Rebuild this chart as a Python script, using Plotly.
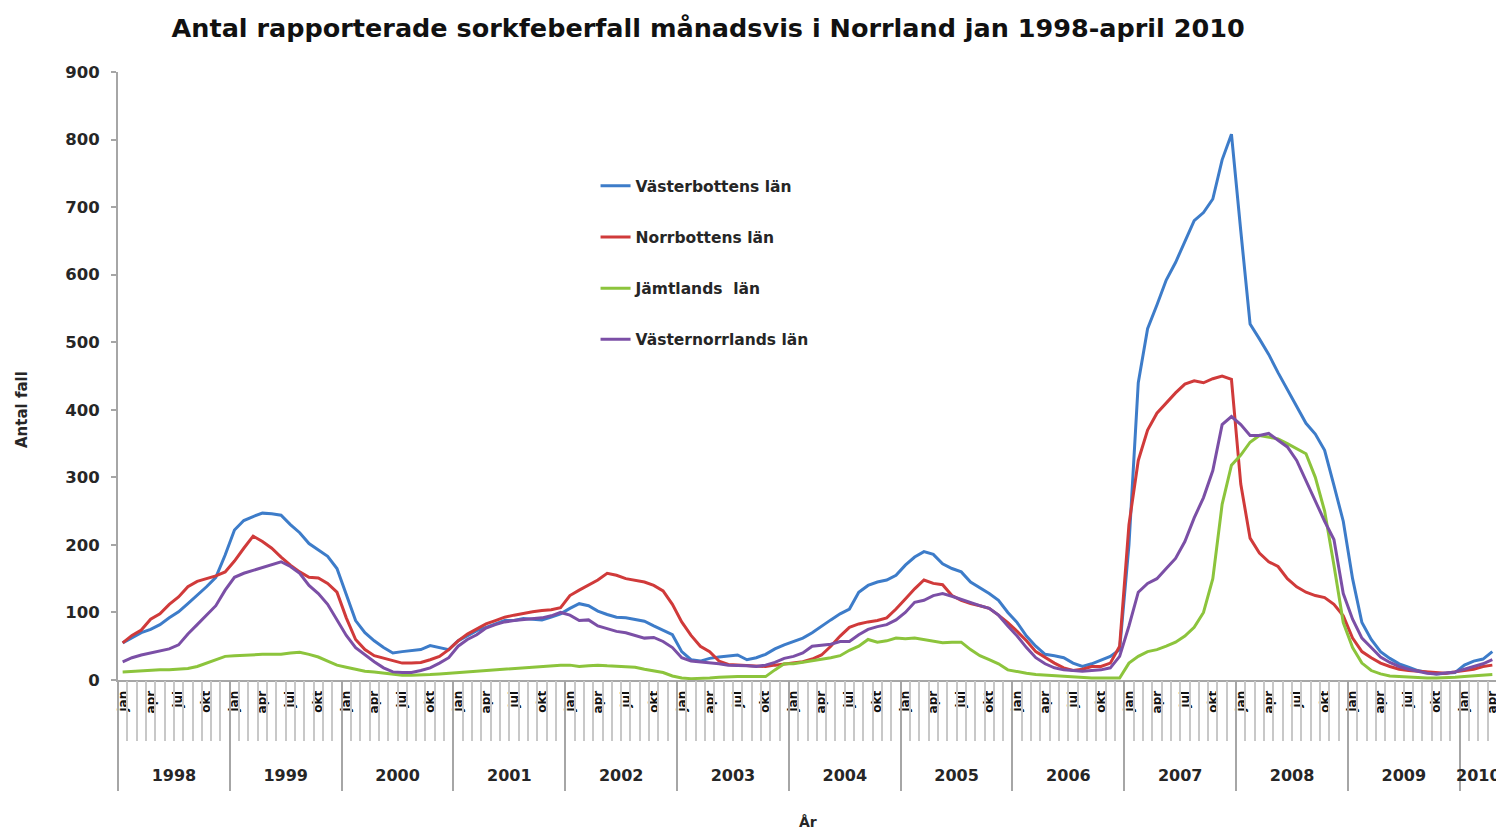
import plotly.graph_objects as go

# ---------------- data ----------------
years = list(range(1998, 2011))
month_names = ["jan", "feb", "mar", "apr", "maj", "jun", "jul", "aug", "sep", "okt", "nov", "dec"]
labelled_months = ["jan", "apr", "jul", "okt"]
last_year_months = 4  # jan-apr 2010

series_names = ["Västerbottens län", "Norrbottens län", "Jämtlands  län", "Västernorrlands län"]

vasterbotten = [
    55, 62, 70, 75, 82, 92, 101, 113, 125, 138, 152, 185,      # 1998
    222, 236, 242, 247, 246, 244, 230, 218, 202, 192, 183, 165,  # 1999
    125, 88, 70, 58, 48, 40, 42, 43, 45, 51, 48, 45,            # 2000
    58, 65, 73, 78, 83, 88, 88, 91, 90, 89, 93, 98,             # 2001
    106, 113, 110, 102, 97, 93, 92, 90, 87, 80, 74, 67,         # 2002
    42, 30, 28, 32, 34, 35, 37, 30, 33, 38, 46, 52,             # 2003
    57, 62, 70, 80, 89, 98, 105, 130, 140, 145, 148, 155,       # 2004
    170, 182, 190, 186, 172, 165, 160, 145, 137, 128, 118, 100,  # 2005
    85, 65, 50, 38, 36, 33, 25, 20, 24, 30, 35, 45,             # 2006
    200, 440, 520, 555, 592, 618, 648, 680, 692, 712, 770, 808,  # 2007
    665, 527, 505, 482, 455, 430, 405, 380, 364, 340, 288, 235,  # 2008
    150, 85, 60, 42, 32, 24, 19, 14, 11, 9, 10, 11,             # 2009
    22, 28, 31, 42,                                             # 2010
]
norrbotten = [
    55, 66, 74, 90, 98, 112, 123, 138, 146, 150, 154, 160,
    176, 195, 213, 205, 195, 182, 170, 160, 152, 151, 143, 130,
    92, 60, 45, 36, 32, 28, 25, 25, 26, 30, 35, 45,
    58, 68, 76, 83, 88, 93, 96, 99, 101, 103, 104, 107,
    125, 133, 140, 148, 158, 155, 150, 147, 145, 140, 132, 112,
    86, 66, 50, 42, 28, 23, 22, 21, 20, 20, 22, 24,
    25, 27, 31, 37, 50, 65, 78, 83, 86, 88, 92, 105,
    120, 135, 148, 143, 141, 125, 118, 113, 110, 106, 96, 85,
    72, 58, 42, 33, 25, 18, 14, 16, 20, 20, 25, 50,
    230, 325, 370, 395, 410, 425, 438, 443, 440, 446, 450, 445,
    290, 210, 188, 175, 168, 150, 138, 130, 125, 122, 112, 95,
    62, 42, 33, 25, 20, 16, 14, 13, 12, 10, 10, 12,
    14, 16, 20, 22,
]
jamtland = [
    12, 13, 14, 15, 15, 15, 16, 17, 20, 25, 30, 35,
    36, 37, 37, 38, 38, 38, 40, 41, 38, 34, 28, 22,
    19, 16, 13, 12, 10, 9, 7, 7, 7, 8, 9, 10,
    11, 12, 13, 15, 16, 17, 18, 19, 20, 20, 21, 22,
    22, 20, 21, 22, 21, 20, 20, 19, 16, 13, 11, 6,
    3, 2, 2, 3, 4, 5, 5, 5, 5, 5, 15, 24,
    24, 26, 28, 31, 33, 36, 44, 50, 60, 56, 58, 62,
    61, 62, 60, 58, 55, 56, 56, 45, 36, 30, 24, 15,
    12, 10, 8, 7, 6, 5, 4, 4, 3, 3, 3, 3,
    25, 35, 42, 45, 50, 56, 65, 78, 100, 150, 260, 318,
    333, 352, 362, 360, 357, 350, 343, 335, 300, 250, 170, 85,
    48, 25, 14, 9, 6, 5, 4, 3, 3, 3, 3, 4,
    5, 6, 7, 8,
]
vasternorrland = [
    27, 33, 37, 40, 43, 46, 52, 68, 82, 96, 110, 133,
    152, 158, 162, 166, 170, 175, 168, 158, 140, 128, 112, 90,
    66, 48, 37, 27, 18, 12, 11, 11, 14, 18, 25, 33,
    50, 60, 67, 77, 82, 86, 88, 89, 90, 92, 95, 100,
    96, 88, 89, 80, 76, 72, 70, 66, 62, 63, 57, 48,
    33, 28, 27, 26, 24, 22, 22, 21, 20, 22, 26, 32,
    35, 40, 50, 52, 53, 57, 57, 67, 75, 79, 82, 89,
    100, 115, 118, 125, 128, 124, 119, 115, 110, 106, 96, 80,
    65, 48, 33, 24, 18, 15, 14, 13, 14, 15, 18, 35,
    80, 130, 143, 150, 165, 180, 205, 240, 270, 310, 378, 390,
    378, 362, 362, 365, 355, 345, 325, 295, 265, 235, 208, 128,
    90, 62, 48, 34, 26, 20, 16, 13, 10, 9, 10, 12,
    16, 20, 24, 30,
]

colors = ["#3D7CC9", "#D03A3A", "#8CC43C", "#7B4FA6"]

# ---------------- derived category positions ----------------
months_per_year = [12] * (len(years) - 1) + [last_year_months]
cat_year, cat_month = [], []
for y, n in zip(years, months_per_year):
    for m in month_names[:n]:
        cat_year.append(y)
        cat_month.append(m)
n_cat = len(cat_month)
x = [i + 0.5 for i in range(n_cat)]

month_tickvals = [x[i] for i in range(n_cat) if cat_month[i] in labelled_months]
month_ticktext = [cat_month[i] for i in range(n_cat) if cat_month[i] in labelled_months]

year_bounds = [0]
for n in months_per_year:
    year_bounds.append(year_bounds[-1] + n)
year_centers = [(a + b) / 2 for a, b in zip(year_bounds[:-1], year_bounds[1:])]

FONT = "DejaVu Sans"
TXT = "#262626"
AX = "#A6A6A6"

fig = go.Figure()
for name, vals, col in zip(series_names,
                           [vasterbotten, norrbotten, jamtland, vasternorrland], colors):
    fig.add_trace(go.Scatter(x=x, y=vals, mode="lines", name=name, legendgroup=name,
                             line=dict(color=col, width=3)))

common = dict(range=[0, n_cat], showgrid=False, zeroline=False, fixedrange=True,
              automargin=False)

fig.update_layout(
    width=1496, height=822,
    margin=dict(l=110, r=7, t=64, b=150),
    paper_bgcolor="white", plot_bgcolor="white",
    title=dict(text="Antal rapporterade sorkfeberfall månadsvis i Norrland jan 1998-april 2010",
               x=0.468, xanchor="center", y=1 - 20 / 822, yanchor="middle",
               font=dict(family=FONT, size=25.5, color="#111111", weight="bold")),
    showlegend=True,
    legend=dict(x=0.3463, y=0.840, xanchor="left", yanchor="top", traceorder="grouped",
                tracegroupgap=28, bgcolor="rgba(0,0,0,0)",
                font=dict(family=FONT, size=15.5, color=TXT, weight="bold")),
    xaxis=dict(**common, showline=True, linecolor=AX, linewidth=2,
               tickmode="array", tickvals=month_tickvals, ticktext=month_ticktext,
               ticks="outside", ticklen=4, tickcolor="rgba(0,0,0,0)", tickangle=-90,
               tickfont=dict(family=FONT, size=12, color="#111111", weight="bold")),
    xaxis2=dict(**common, overlaying="x", anchor="y", side="bottom", showline=False,
                tickmode="array", tickvals=list(range(n_cat + 1)),
                ticks="outside", ticklen=60, tickwidth=2, tickcolor="#C8C8C8",
                showticklabels=False),
    xaxis3=dict(**common, overlaying="x", anchor="y", side="bottom", showline=False,
                tickmode="array", tickvals=year_bounds,
                ticks="outside", ticklen=110, tickwidth=2, tickcolor=AX,
                showticklabels=False),
    xaxis4=dict(**common, overlaying="x", anchor="y", side="bottom", showline=False,
                tickmode="array", tickvals=year_centers, ticktext=[str(y) for y in years],
                ticks="outside", ticklen=81, tickcolor="rgba(0,0,0,0)",
                tickfont=dict(family=FONT, size=16, color=TXT, weight="bold")),
    yaxis=dict(range=[0, 900], dtick=100, showgrid=False, zeroline=False, fixedrange=True,
               automargin=False, showline=True, linecolor=AX, linewidth=2,
               ticks="outside", ticklen=5, tickwidth=2, tickcolor=AX,
               ticklabelstandoff=8,
               tickfont=dict(family=FONT, size=16.5, color=TXT, weight="bold")),
    annotations=[
        dict(text="Antal fall", xref="paper", yref="paper",
             x=(14 - 110) / 1379, y=0.444, xanchor="center", yanchor="middle",
             textangle=-90, showarrow=False,
             font=dict(family=FONT, size=15, color=TXT, weight="bold")),
        dict(text="År", xref="paper", yref="paper",
             x=(800 - 110) / 1379, y=-(814 - 672) / 608, xanchor="center", yanchor="middle",
             showarrow=False,
             font=dict(family=FONT, size=14, color=TXT, weight="bold")),
    ],
)

# invisible helper traces bind the overlay axes so they are rendered
for ax in ["x2", "x3", "x4"]:
    fig.add_trace(go.Scatter(x=[0], y=[0], xaxis=ax, mode="markers", showlegend=False,
                             hoverinfo="skip", marker=dict(opacity=0)))

fig.write_html("out.html")
